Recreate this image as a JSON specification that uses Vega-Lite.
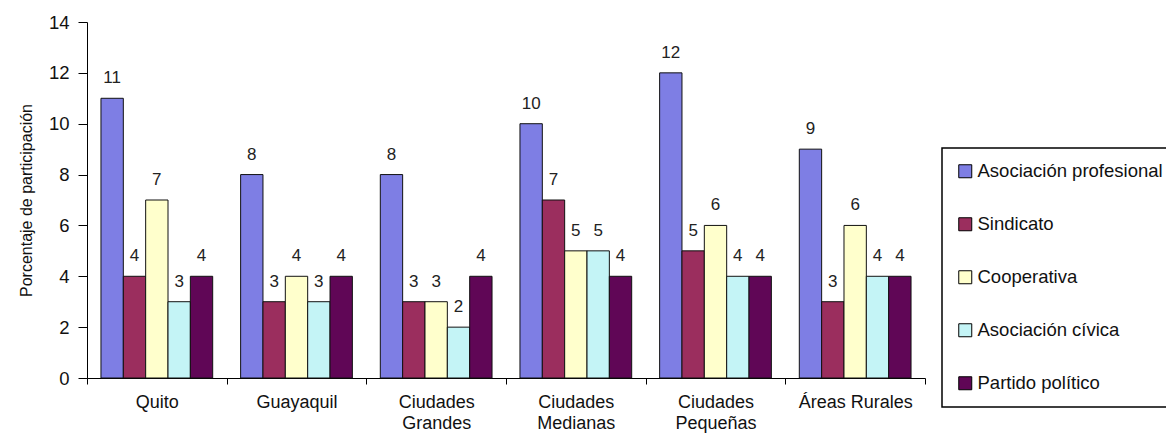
{
  "$schema": "https://vega.github.io/schema/vega-lite/v6.json",
  "autosize": {"type": "none"},
  "padding": {"left": 87, "top": 22, "right": 241, "bottom": 57},
  "width": 838,
  "height": 356,
  "background": "white",
  "config": {
    "view": {"stroke": null},
    "font": "Liberation Sans",
    "axis": {"domainColor": "#000", "tickColor": "#000", "labelColor": "#111", "titleColor": "#111", "grid": false}
  },
  "data": {
    "values": [
      {"region": "Quito", "org": "Asociación profesional", "value": 11},
      {"region": "Quito", "org": "Sindicato", "value": 4},
      {"region": "Quito", "org": "Cooperativa", "value": 7},
      {"region": "Quito", "org": "Asociación cívica", "value": 3},
      {"region": "Quito", "org": "Partido político", "value": 4},
      {"region": "Guayaquil", "org": "Asociación profesional", "value": 8},
      {"region": "Guayaquil", "org": "Sindicato", "value": 3},
      {"region": "Guayaquil", "org": "Cooperativa", "value": 4},
      {"region": "Guayaquil", "org": "Asociación cívica", "value": 3},
      {"region": "Guayaquil", "org": "Partido político", "value": 4},
      {"region": "Ciudades Grandes", "org": "Asociación profesional", "value": 8},
      {"region": "Ciudades Grandes", "org": "Sindicato", "value": 3},
      {"region": "Ciudades Grandes", "org": "Cooperativa", "value": 3},
      {"region": "Ciudades Grandes", "org": "Asociación cívica", "value": 2},
      {"region": "Ciudades Grandes", "org": "Partido político", "value": 4},
      {"region": "Ciudades Medianas", "org": "Asociación profesional", "value": 10},
      {"region": "Ciudades Medianas", "org": "Sindicato", "value": 7},
      {"region": "Ciudades Medianas", "org": "Cooperativa", "value": 5},
      {"region": "Ciudades Medianas", "org": "Asociación cívica", "value": 5},
      {"region": "Ciudades Medianas", "org": "Partido político", "value": 4},
      {"region": "Ciudades Pequeñas", "org": "Asociación profesional", "value": 12},
      {"region": "Ciudades Pequeñas", "org": "Sindicato", "value": 5},
      {"region": "Ciudades Pequeñas", "org": "Cooperativa", "value": 6},
      {"region": "Ciudades Pequeñas", "org": "Asociación cívica", "value": 4},
      {"region": "Ciudades Pequeñas", "org": "Partido político", "value": 4},
      {"region": "Áreas Rurales", "org": "Asociación profesional", "value": 9},
      {"region": "Áreas Rurales", "org": "Sindicato", "value": 3},
      {"region": "Áreas Rurales", "org": "Cooperativa", "value": 6},
      {"region": "Áreas Rurales", "org": "Asociación cívica", "value": 4},
      {"region": "Áreas Rurales", "org": "Partido político", "value": 4}
    ]
  },
  "encoding": {
    "x": {
      "field": "region",
      "type": "nominal",
      "sort": null,
      "scale": {"paddingInner": 0, "paddingOuter": 0},
      "axis": {
        "title": null,
        "labelAngle": 0,
        "tickBand": "extent",
        "tickSize": 6,
        "labelPadding": 9,
        "labelFontSize": 18,
        "labelLineHeight": 21,
        "labelExpr": "datum.label == 'Áreas Rurales' ? datum.label : split(datum.label, ' ')"
      }
    },
    "xOffset": {
      "field": "org",
      "type": "nominal",
      "sort": ["Asociación profesional", "Sindicato", "Cooperativa", "Asociación cívica", "Partido político"],
      "scale": {"paddingInner": 0, "paddingOuter": 0.625}
    },
    "y": {
      "field": "value",
      "type": "quantitative",
      "scale": {"domain": [0, 14], "nice": false},
      "axis": {
        "values": [0, 2, 4, 6, 8, 10, 12, 14],
        "tickSize": 9,
        "labelPadding": 9,
        "labelFontSize": 18.5,
        "title": "Porcentaje de participación",
        "titleFontSize": 16,
        "titleFontWeight": "normal",
        "titlePadding": 14
      }
    }
  },
  "layer": [
    {
      "mark": {"type": "bar", "stroke": "#111", "strokeWidth": 1},
      "encoding": {
        "color": {
          "field": "org",
          "type": "nominal",
          "scale": {
            "domain": ["Asociación profesional", "Sindicato", "Cooperativa", "Asociación cívica", "Partido político"],
            "range": ["#7E7EE4", "#9B2E5E", "#FFFFCC", "#C4F4F6", "#600656"]
          },
          "legend": {
            "title": null,
            "orient": "none",
            "legendX": 855,
            "legendY": 126,
            "symbolType": "square",
            "symbolSize": 169,
            "symbolStrokeColor": "#000",
            "symbolStrokeWidth": 1,
            "labelFontSize": 18.5,
            "labelColor": "#111",
            "labelOffset": 3,
            "labelLimit": 400,
            "rowPadding": 34,
            "padding": 14,
            "strokeColor": "#000",
            "fillColor": "white",
            "encode": {"legend": {"update": {"strokeWidth": {"value": 1.5}}}}
          }
        }
      }
    },
    {
      "mark": {"type": "text", "baseline": "alphabetic", "dy": -15, "fontSize": 17, "color": "#222"},
      "encoding": {
        "text": {"field": "value", "type": "quantitative"}
      }
    }
  ]
}
